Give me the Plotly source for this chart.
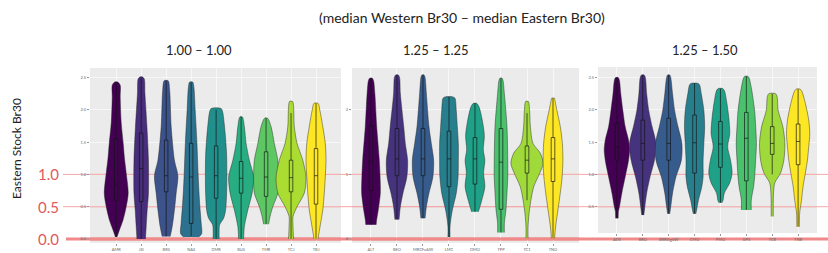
import plotly.graph_objects as go

# ---------------- data ----------------
TITLE = "(median Western Br30 \u2013 median Eastern Br30)"
PANEL_TITLES = ["1.00 \u2013 1.00", "1.25 \u2013 1.25", "1.25 \u2013 1.50"]
Y_TITLE = "Eastern Stock Br30"
REF_LEVELS = [0.0, 0.5, 1.0]
REF_LABELS = ["0.0", "0.5", "1.0"]

P1_LABELS = ["AMR", "JSI", "BRS", "NAS", "DMR", "BUS", "TMR", "TCJ", "TBJ"]
P2_LABELS = ["ALT", "BEO", "MRCFu&W", "LMC", "DMO", "TPP", "TC1", "TNO"]
P3_LABELS = ["ADS", "BRO", "BRRStgbW", "CMO", "PMO", "GPS", "TCB", "TNB"]

P1_YTICKS = [0.0, 0.5, 1.0, 1.5, 2.0, 2.5]
P2_YTICKS = [0, 1, 2]
P3_YTICKS = [0.5, 1.0, 1.5, 2.0, 2.5]

# density profiles: (value, half-width in category units)
P1_DENS = [
    [(0.03, 0.03), (0.14, 0.13), (0.29, 0.27), (0.5, 0.40), (0.71, 0.48), (1.02, 0.40), (1.25, 0.33), (1.48, 0.28), (1.8, 0.20), (2.2, 0.16), (2.38, 0.16), (2.43, 0.06)],
    [(0.0, 0.17), (0.19, 0.2), (0.45, 0.24), (0.71, 0.29), (1.22, 0.29), (1.74, 0.23), (2.25, 0.15), (2.48, 0.12), (2.51, 0.04)],
    [(0.04, 0.16), (0.19, 0.24), (0.45, 0.33), (0.71, 0.40), (0.98, 0.47), (1.22, 0.33), (1.74, 0.2), (2.3, 0.14), (2.45, 0.08)],
    [(0.03, 0.30), (0.08, 0.42), (0.25, 0.40), (0.5, 0.35), (0.75, 0.31), (1.0, 0.28), (1.5, 0.23), (2.0, 0.16), (2.35, 0.11), (2.43, 0.06)],
    [(0.0, 0.12), (0.1, 0.12), (0.22, 0.14), (0.32, 0.3), (0.45, 0.38), (0.71, 0.42), (1.0, 0.43), (1.3, 0.42), (1.55, 0.38), (1.8, 0.32), (1.97, 0.26), (2.02, 0.2)],
    [(0.0, 0.1), (0.19, 0.13), (0.45, 0.27), (0.71, 0.44), (0.96, 0.5), (1.22, 0.33), (1.48, 0.2), (1.74, 0.13), (1.89, 0.05)],
    [(0.23, 0.1), (0.35, 0.16), (0.5, 0.27), (0.71, 0.47), (0.96, 0.5), (1.22, 0.47), (1.48, 0.33), (1.74, 0.2), (1.87, 0.06)],
    [(0.0, 0.1), (0.19, 0.08), (0.35, 0.08), (0.5, 0.24), (0.71, 0.53), (0.95, 0.6), (1.22, 0.47), (1.48, 0.24), (1.74, 0.13), (2.05, 0.1), (2.13, 0.06)],
    [(0.0, 0.08), (0.19, 0.16), (0.45, 0.27), (0.71, 0.33), (0.96, 0.37), (1.22, 0.4), (1.48, 0.37), (1.74, 0.27), (2.0, 0.15), (2.1, 0.08)],
]
P2_DENS = [
    [(0.22, 0.2), (0.3, 0.22), (0.45, 0.28), (0.71, 0.36), (0.96, 0.35), (1.22, 0.32), (1.74, 0.22), (2.25, 0.15), (2.45, 0.1), (2.49, 0.05)],
    [(0.3, 0.08), (0.5, 0.13), (0.71, 0.23), (0.96, 0.38), (1.22, 0.41), (1.48, 0.32), (1.74, 0.26), (2.25, 0.13), (2.5, 0.1), (2.54, 0.05)],
    [(0.32, 0.08), (0.5, 0.13), (0.71, 0.23), (0.96, 0.38), (1.22, 0.41), (1.48, 0.32), (1.74, 0.23), (2.25, 0.13), (2.5, 0.08), (2.54, 0.04)],
    [(0.03, 0.04), (0.19, 0.04), (0.3, 0.07), (0.45, 0.13), (0.71, 0.28), (0.96, 0.35), (1.22, 0.36), (1.48, 0.36), (1.74, 0.32), (1.99, 0.28), (2.18, 0.23), (2.2, 0.15)],
    [(0.42, 0.13), (0.6, 0.26), (0.81, 0.38), (1.02, 0.33), (1.22, 0.38), (1.38, 0.32), (1.6, 0.36), (1.84, 0.28), (2.05, 0.15), (2.1, 0.06)],
    [(0.1, 0.13), (0.24, 0.13), (0.45, 0.19), (0.71, 0.23), (0.96, 0.26), (1.22, 0.26), (1.74, 0.23), (2.25, 0.13), (2.45, 0.08), (2.49, 0.04)],
    [(0.01, 0.04), (0.19, 0.04), (0.4, 0.08), (0.6, 0.15), (0.81, 0.26), (1.02, 0.49), (1.17, 0.62), (1.33, 0.51), (1.48, 0.23), (1.74, 0.13), (1.99, 0.1), (2.13, 0.05)],
    [(0.01, 0.06), (0.19, 0.1), (0.45, 0.19), (0.71, 0.28), (0.96, 0.35), (1.22, 0.38), (1.48, 0.36), (1.74, 0.28), (1.99, 0.15), (2.13, 0.08), (2.18, 0.05)],
]
P3_DENS = [
    [(0.32, 0.05), (0.43, 0.06), (0.5, 0.1), (0.71, 0.19), (0.96, 0.32), (1.22, 0.45), (1.38, 0.49), (1.53, 0.45), (1.74, 0.32), (1.99, 0.23), (2.25, 0.15), (2.45, 0.1), (2.5, 0.05)],
    [(0.37, 0.04), (0.5, 0.08), (0.71, 0.15), (0.96, 0.28), (1.22, 0.45), (1.48, 0.51), (1.74, 0.36), (1.99, 0.23), (2.25, 0.15), (2.5, 0.1), (2.54, 0.05)],
    [(0.39, 0.04), (0.5, 0.08), (0.71, 0.15), (0.96, 0.28), (1.22, 0.49), (1.48, 0.51), (1.74, 0.36), (1.99, 0.23), (2.25, 0.15), (2.5, 0.08), (2.54, 0.04)],
    [(0.39, 0.05), (0.45, 0.08), (0.6, 0.15), (0.81, 0.28), (0.96, 0.33), (1.22, 0.33), (1.48, 0.36), (1.74, 0.39), (1.99, 0.36), (2.25, 0.26), (2.39, 0.19), (2.41, 0.12)],
    [(0.56, 0.06), (0.6, 0.1), (0.71, 0.15), (0.87, 0.36), (1.02, 0.45), (1.22, 0.39), (1.43, 0.28), (1.63, 0.36), (1.89, 0.32), (2.15, 0.23), (2.3, 0.15), (2.33, 0.08)],
    [(0.45, 0.19), (0.6, 0.19), (0.81, 0.28), (0.96, 0.32), (1.22, 0.36), (1.48, 0.39), (1.74, 0.36), (1.99, 0.32), (2.35, 0.19), (2.5, 0.1), (2.52, 0.05)],
    [(0.35, 0.04), (0.5, 0.04), (0.71, 0.05), (0.87, 0.1), (1.02, 0.32), (1.22, 0.45), (1.48, 0.49), (1.74, 0.41), (1.99, 0.23), (2.2, 0.19), (2.25, 0.13)],
    [(0.19, 0.05), (0.25, 0.05), (0.4, 0.06), (0.6, 0.13), (0.81, 0.19), (1.02, 0.28), (1.22, 0.36), (1.43, 0.41), (1.63, 0.45), (1.84, 0.41), (2.1, 0.28), (2.28, 0.15), (2.32, 0.08)],
]

# box statistics
P1_Q1 = [0.60, 0.58, 0.73, 0.24, 0.63, 0.71, 0.66, 0.73, 0.54]
P1_MED = [0.85, 1.09, 0.98, 0.96, 0.98, 0.94, 0.96, 0.95, 0.98]
P1_Q3 = [1.55, 1.64, 1.53, 1.48, 1.44, 1.20, 1.35, 1.22, 1.40]
P1_LO = [0.03, 0.00, 0.04, 0.04, 0.00, 0.00, 0.23, 0.00, 0.00]
P1_HI = [2.42, 2.50, 2.45, 2.42, 2.00, 1.89, 1.87, 1.95, 2.10]

P2_Q1 = [0.75, 0.98, 0.98, 0.81, 0.85, 0.46, 1.02, 0.89]
P2_MED = [1.20, 1.24, 1.24, 1.24, 1.24, 1.19, 1.22, 1.24]
P2_Q3 = [1.75, 1.71, 1.71, 1.67, 1.57, 1.71, 1.44, 1.57]
P2_LO = [0.22, 0.30, 0.32, 0.03, 0.42, 0.10, 0.60, 0.01]
P2_HI = [2.49, 2.54, 2.54, 2.20, 2.10, 2.49, 1.95, 2.18]

P3_Q1 = [1.22, 1.22, 1.22, 1.02, 1.11, 0.90, 1.31, 1.15]
P3_MED = [1.42, 1.48, 1.48, 1.49, 1.47, 1.56, 1.48, 1.51]
P3_Q3 = [1.79, 1.84, 1.87, 1.92, 1.82, 1.96, 1.74, 1.78]
P3_LO = [0.32, 0.37, 0.39, 0.39, 0.56, 0.45, 1.00, 0.19]
P3_HI = [2.50, 2.54, 2.54, 2.41, 2.33, 2.52, 2.25, 2.32]

VIRIDIS9 = ["#440154", "#472D7B", "#3B528B", "#2C728E", "#21908C", "#27AD81", "#5DC863", "#AADC32", "#FDE725"]
VIRIDIS8 = ["#440154", "#46337E", "#365C8D", "#277F8E", "#1FA187", "#4AC16D", "#9FDA3A", "#FDE725"]

# ---------------- layout geometry ----------------
W, H = 828, 253
FONT = "Lato, 'Open Sans', sans-serif"
THIN_RED = "#F4A8A8"
THICK_RED = "#F08A8A"
BOX_HALF = 0.07

panels = [
    dict(labels=P1_LABELS, dens=P1_DENS, q1=P1_Q1, med=P1_MED, q3=P1_Q3, lo=P1_LO, hi=P1_HI,
         colors=VIRIDIS9, yticks=P1_YTICKS, ytext=["%.1f" % v for v in P1_YTICKS],
         xdom=(90 / W, 341 / W), ydom=(1 - 243 / H, 1 - 68 / H), xr=(-1.05, 9.0), yr=(-0.062, 2.647)),
    dict(labels=P2_LABELS, dens=P2_DENS, q1=P2_Q1, med=P2_MED, q3=P2_Q3, lo=P2_LO, hi=P2_HI,
         colors=VIRIDIS8, yticks=P2_YTICKS, ytext=[str(v) for v in P2_YTICKS],
         xdom=(352 / W, 579 / W), ydom=(1 - 243 / H, 1 - 68 / H), xr=(-0.73, 8.0), yr=(-0.062, 2.647)),
    dict(labels=P3_LABELS, dens=P3_DENS, q1=P3_Q1, med=P3_MED, q3=P3_Q3, lo=P3_LO, hi=P3_HI,
         colors=VIRIDIS8, yticks=P3_YTICKS, ytext=["%.1f" % v for v in P3_YTICKS],
         xdom=(598 / W, 817 / W), ydom=(1 - 233 / H, 1 - 67 / H), xr=(-0.73, 7.73), yr=(0.093, 2.663)),
]

fig = go.Figure()
shapes = []

for i, p in enumerate(panels, start=1):
    xa = "x" if i == 1 else "x%d" % i
    ya = "y" if i == 1 else "y%d" % i
    # reference lines inside the panel: drawn first so they sit under the violins
    for lv in REF_LEVELS:
        if p["yr"][0] <= lv <= p["yr"][1]:
            fig.add_trace(go.Scatter(
                x=list(p["xr"]), y=[lv, lv], mode="lines",
                line=dict(color=THICK_RED if lv == 0 else THIN_RED, width=3 if lv == 0 else 1),
                xaxis=xa, yaxis=ya, showlegend=False, hoverinfo="skip"))
    for k, prof in enumerate(p["dens"]):
        vs = [a for a, b in prof]
        hw = [b for a, b in prof]
        xs = [k + w for w in hw] + [k - w for w in reversed(hw)]
        ys = vs + list(reversed(vs))
        fig.add_trace(go.Scatter(
            x=xs, y=ys, mode="lines", fill="toself", fillcolor=p["colors"][k],
            line=dict(color="rgba(35,35,35,0.75)", width=0.6, shape="spline", smoothing=0.8),
            xaxis=xa, yaxis=ya, showlegend=False, hoverinfo="skip"))
    # inner box plots (whisker, box, median) as line paths on top of the violins
    bx, by = [], []
    for k in range(len(p["labels"])):
        l, r = k - BOX_HALF, k + BOX_HALF
        bx += [k, k, None, k, k, None]
        by += [p["lo"][k], p["q1"][k], None, p["q3"][k], p["hi"][k], None]
        bx += [l, r, r, l, l, None, l, r, None]
        by += [p["q1"][k], p["q1"][k], p["q3"][k], p["q3"][k], p["q1"][k], None,
               p["med"][k], p["med"][k], None]
    fig.add_trace(go.Scatter(
        x=bx, y=by, mode="lines", line=dict(color="rgba(20,20,20,0.85)", width=0.8),
        xaxis=xa, yaxis=ya, showlegend=False, hoverinfo="skip", connectgaps=False))

    n = len(p["labels"])
    axkey = "xaxis" if i == 1 else "xaxis%d" % i
    aykey = "yaxis" if i == 1 else "yaxis%d" % i
    fig.update_layout(**{
        axkey: dict(domain=list(p["xdom"]), anchor=ya, range=list(p["xr"]),
                    tickvals=list(range(n)), ticktext=p["labels"],
                    tickfont=dict(size=4, color="#666666", family=FONT),
                    ticks="outside", ticklen=2, tickcolor="#999999",
                    showgrid=True, gridcolor="#F7F7F7", gridwidth=0.6,
                    zeroline=False, showline=False, fixedrange=True),
        aykey: dict(domain=list(p["ydom"]), anchor=xa, range=list(p["yr"]),
                    tickvals=p["yticks"], ticktext=p["ytext"],
                    tickfont=dict(size=4, color="#666666", family=FONT),
                    ticks="outside", ticklen=2, tickcolor="#999999",
                    showgrid=True, gridcolor="#F7F7F7", gridwidth=0.6,
                    zeroline=False, showline=False, fixedrange=True),
    })

# reference lines across the whole figure, positioned from panel 1's scale
p1 = panels[0]


def to_paper(v):
    r0, r1 = p1["yr"]
    d0, d1 = p1["ydom"]
    return d0 + (v - r0) / (r1 - r0) * (d1 - d0)


annotations = []
for lv, lab in zip(REF_LEVELS, REF_LABELS):
    yp = to_paper(lv)
    shapes.append(dict(type="line", xref="paper", yref="paper",
                       x0=(66 if lv == 0 else 63) / W, x1=1, y0=yp, y1=yp, layer="below",
                       line=dict(color=THICK_RED if lv == 0 else THIN_RED,
                                 width=3 if lv == 0 else 1)))
    annotations.append(dict(text=lab, xref="paper", yref="paper", x=48 / W, y=yp,
                            xanchor="center", yanchor="middle", showarrow=False,
                            font=dict(size=15, color="#E05A5A", family=FONT)))

annotations.append(dict(text=TITLE, xref="paper", yref="paper", x=462 / W, y=1 - 17 / H,
                        xanchor="center", yanchor="middle", showarrow=False,
                        font=dict(size=14, color="#222222", family=FONT)))
for t, cx in zip(PANEL_TITLES, [199, 436, 705]):
    annotations.append(dict(text=t, xref="paper", yref="paper", x=cx / W, y=1 - 50 / H,
                            xanchor="center", yanchor="middle", showarrow=False,
                            font=dict(size=13, color="#222222", family=FONT)))
annotations.append(dict(text=Y_TITLE, xref="paper", yref="paper", x=16 / W, y=1 - 149 / H,
                        xanchor="center", yanchor="middle", showarrow=False, textangle=-90,
                        font=dict(size=12, color="#222222", family=FONT)))

fig.update_layout(
    width=W, height=H, margin=dict(l=0, r=0, t=0, b=0),
    paper_bgcolor="white", plot_bgcolor="#EBEBEB",
    shapes=shapes, annotations=annotations, showlegend=False,
)

fig.write_html("out.html")
